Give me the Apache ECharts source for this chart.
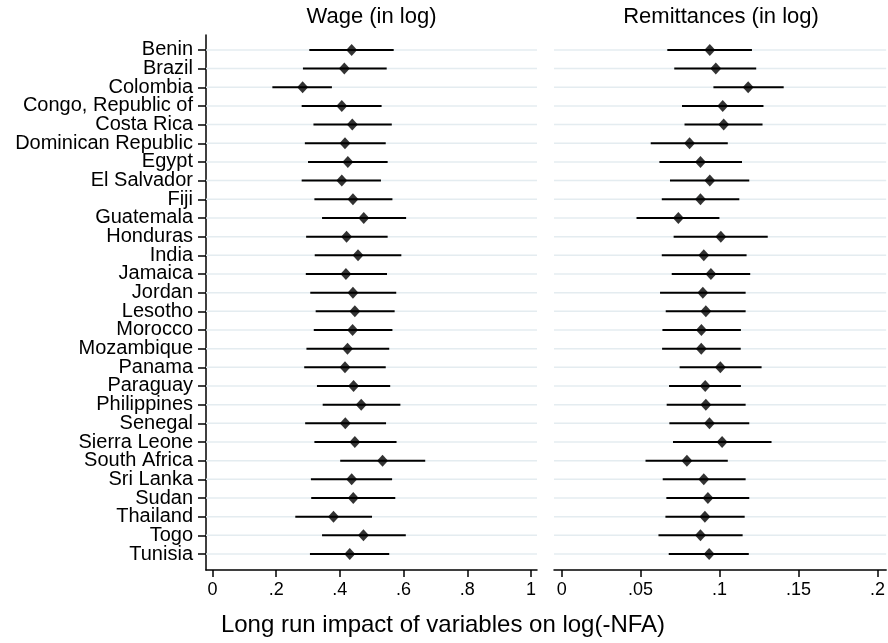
<!DOCTYPE html>
<html>
<head>
<meta charset="utf-8">
<script src="https://cdn.jsdelivr.net/npm/echarts@6/dist/echarts.min.js"></script>
<style>
html,body{margin:0;padding:0;background:#fff;}
#chart{width:888px;height:643px;}
</style>
</head>
<body>
<div id="chart"></div>
<script>
const countries = ["Benin","Brazil","Colombia","Congo, Republic of","Costa Rica","Dominican Republic","Egypt","El Salvador","Fiji","Guatemala","Honduras","India","Jamaica","Jordan","Lesotho","Morocco","Mozambique","Panama","Paraguay","Philippines","Senegal","Sierra Leone","South Africa","Sri Lanka","Sudan","Thailand","Togo","Tunisia"];

const wageEst = [0.437,0.414,0.283,0.406,0.439,0.416,0.425,0.406,0.441,0.475,0.421,0.457,0.419,0.441,0.447,0.440,0.424,0.416,0.443,0.467,0.417,0.447,0.534,0.437,0.442,0.380,0.474,0.431];
const wageLo  = [0.304,0.284,0.188,0.280,0.317,0.290,0.300,0.280,0.320,0.344,0.294,0.321,0.293,0.307,0.324,0.318,0.295,0.288,0.328,0.346,0.291,0.320,0.401,0.309,0.310,0.260,0.344,0.306];
const wageHi  = [0.569,0.547,0.375,0.531,0.563,0.544,0.550,0.529,0.565,0.608,0.550,0.593,0.548,0.577,0.572,0.565,0.555,0.544,0.558,0.590,0.545,0.578,0.668,0.564,0.574,0.501,0.607,0.555];

const remEst = [0.0938,0.0976,0.1181,0.1020,0.1026,0.0810,0.0879,0.0938,0.0879,0.0739,0.1008,0.0900,0.0945,0.0894,0.0913,0.0885,0.0884,0.1005,0.0909,0.0913,0.0936,0.1016,0.0793,0.0900,0.0926,0.0907,0.0879,0.0934];
const remLo  = [0.0669,0.0713,0.0961,0.0762,0.0778,0.0564,0.0619,0.0686,0.0634,0.0474,0.0709,0.0634,0.0697,0.0623,0.0659,0.0638,0.0636,0.0747,0.0680,0.0665,0.0682,0.0705,0.0531,0.0640,0.0663,0.0657,0.0613,0.0678];
const remHi  = [0.1205,0.1232,0.1406,0.1278,0.1272,0.1052,0.1142,0.1188,0.1125,0.0999,0.1305,0.1171,0.1194,0.1165,0.1165,0.1135,0.1134,0.1266,0.1135,0.1165,0.1188,0.1329,0.1052,0.1165,0.1188,0.1159,0.1146,0.1185];

const wageTicks = [0, 0.2, 0.4, 0.6, 0.8, 1];
const remTicks = [0, 0.05, 0.1, 0.15, 0.2];

const FONT = '"Liberation Sans", Arial, Helvetica, sans-serif';
const Y_MIN = -0.8, Y_MAX = 27.857;
// row positions plus the two axis ends (blank labels there, so no country label gets dropped)
const rowIdx = [Y_MIN].concat(countries.map((c, i) => i), [Y_MAX]);
const fmtNum = v => { const s = String(+(+v).toFixed(3)); return s.replace(/^0\./, '.'); };
const fmtRow = v => { const n = +v; return Number.isInteger(n) ? (countries[n] || '') : ''; };

const chart = echarts.init(document.getElementById('chart'), null, {renderer: 'canvas'});

function ciRender(params, api) {
  const y = api.value(2);
  const p1 = api.coord([api.value(0), y]);
  const p2 = api.coord([api.value(1), y]);
  const cs = params.coordSys;
  return {
    type: 'group',
    children: [
      {type: 'line', shape: {x1: cs.x, y1: p1[1], x2: cs.x + cs.width, y2: p1[1]},
       style: {stroke: '#e4ecf0', lineWidth: 1.5}, z2: 0},
      {type: 'line', shape: {x1: p1[0], y1: p1[1], x2: p2[0], y2: p2[1]},
       style: {stroke: '#000', lineWidth: 2}, z2: 5}
    ]
  };
}

const yBase = {
  type: 'value', inverse: true, min: Y_MIN, max: Y_MAX,
  splitLine: {show: false}
};

const option = {
  backgroundColor: '#fff',
  animation: false,
  grid: [
    {left: 206, top: 35, width: 331, height: 535},
    {left: 554, top: 35, width: 334, height: 535}
  ],
  xAxis: [
    {gridIndex: 0, type: 'value', min: -0.0204, max: 1.019, position: 'bottom',
     axisLine: {show: true, onZero: false, lineStyle: {color: '#000', width: 1.5}},
     axisTick: {show: true, customValues: wageTicks, length: 7, lineStyle: {color: '#000', width: 1.5}},
     axisLabel: {show: true, customValues: wageTicks, formatter: fmtNum, fontSize: 18, color: '#000', fontFamily: FONT, margin: 11, showMinLabel: true, showMaxLabel: true},
     splitLine: {show: false}},
    {gridIndex: 1, type: 'value', min: -0.00485, max: 0.2055, position: 'bottom',
     axisLine: {show: true, onZero: false, lineStyle: {color: '#000', width: 1.5}},
     axisTick: {show: true, customValues: remTicks, length: 7, lineStyle: {color: '#000', width: 1.5}},
     axisLabel: {show: true, customValues: remTicks, formatter: fmtNum, fontSize: 18, color: '#000', fontFamily: FONT, margin: 11, showMinLabel: true, showMaxLabel: true},
     splitLine: {show: false}}
  ],
  yAxis: [
    Object.assign({}, yBase, {gridIndex: 0, position: 'left',
      axisLine: {show: true, onZero: false, lineStyle: {color: '#000', width: 1.5}},
      axisTick: {show: true, customValues: rowIdx, length: 8, lineStyle: {color: '#000', width: 1.5}},
      axisLabel: {show: true, customValues: rowIdx, formatter: fmtRow,
                  fontSize: 20, color: '#000', fontFamily: FONT, margin: 13,
                  showMinLabel: false, showMaxLabel: false, hideOverlap: false}}),
    Object.assign({}, yBase, {gridIndex: 1,
      axisLine: {show: false, onZero: false}, axisTick: {show: false}, axisLabel: {show: false}})
  ],
  graphic: [
    {type: 'text', x: 371.5, y: 17, style: {text: 'Wage (in log)', align: 'center', verticalAlign: 'middle', fontSize: 22, fontFamily: FONT, fill: '#000'}},
    {type: 'text', x: 721, y: 17, style: {text: 'Remittances (in log)', align: 'center', verticalAlign: 'middle', fontSize: 22, fontFamily: FONT, fill: '#000'}},
    {type: 'text', x: 443, y: 625, style: {text: 'Long run impact of variables on log(-NFA)', align: 'center', verticalAlign: 'middle', fontSize: 24, fontFamily: FONT, fill: '#000'}}
  ],
  series: [
    {type: 'custom', xAxisIndex: 0, yAxisIndex: 0, renderItem: ciRender,
     encode: {x: [0, 1], y: 2},
     data: countries.map((c, i) => [wageLo[i], wageHi[i], i]), z: 2, clip: false},
    {type: 'scatter', xAxisIndex: 0, yAxisIndex: 0, symbol: 'diamond', symbolSize: [11, 12],
     itemStyle: {color: '#000'}, data: countries.map((c, i) => [wageEst[i], i]), z: 5},
    {type: 'custom', xAxisIndex: 1, yAxisIndex: 1, renderItem: ciRender,
     encode: {x: [0, 1], y: 2},
     data: countries.map((c, i) => [remLo[i], remHi[i], i]), z: 2, clip: false},
    {type: 'scatter', xAxisIndex: 1, yAxisIndex: 1, symbol: 'diamond', symbolSize: [11, 12],
     itemStyle: {color: '#000'}, data: countries.map((c, i) => [remEst[i], i]), z: 5}
  ]
};
chart.setOption(option);
</script>
</body>
</html>
